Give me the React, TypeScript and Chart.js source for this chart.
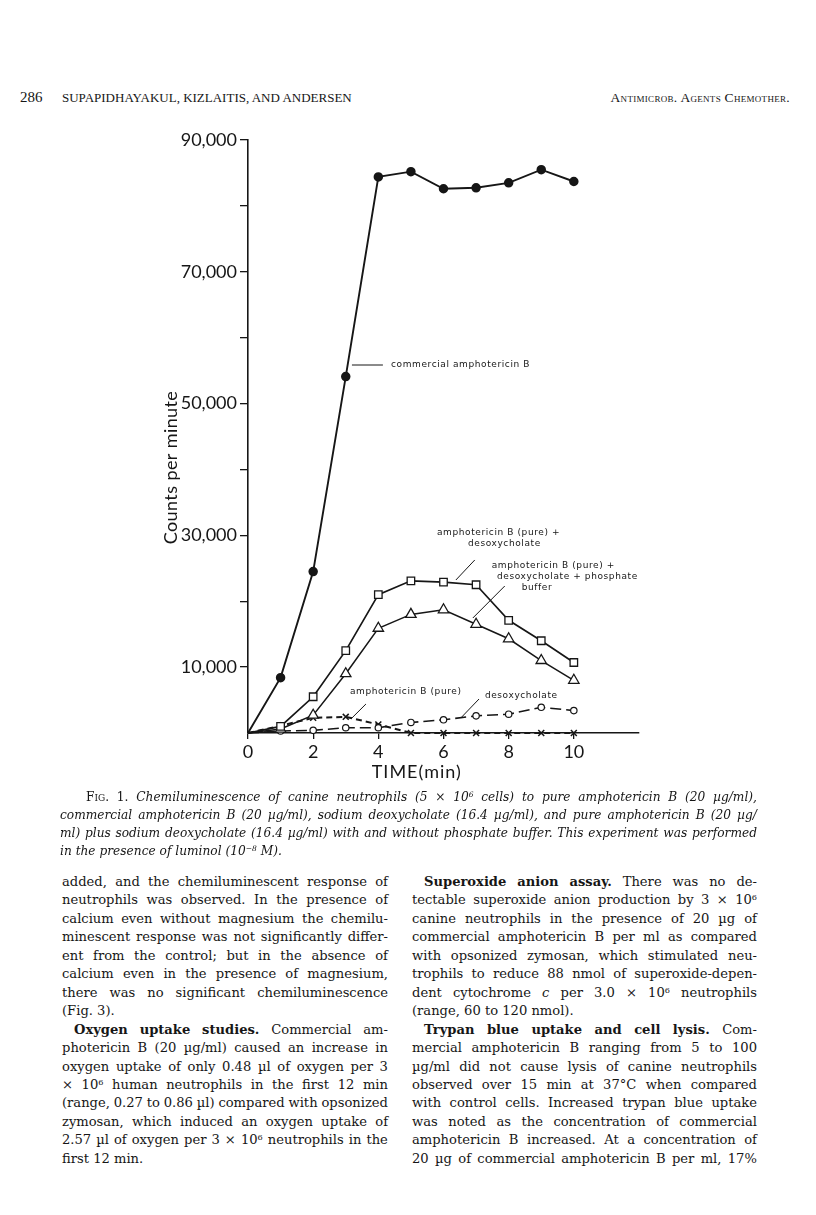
import React, { useEffect, useRef } from 'react';
import { Chart, registerables } from 'chart.js';

Chart.register(...registerables);

// ---------------- data ----------------
const minutes = [0, 1, 2, 3, 4, 5, 6, 7, 8, 9, 10];
const commercialAmphoB = [0, 8400, 24500, 54100, 84400, 85200, 82600, 82750, 83500, 85500, 83700];
const pureAmphoBDesoxy = [0, 1000, 5500, 12500, 21000, 23100, 22900, 22500, 17100, 14000, 10700];
const pureAmphoBDesoxyPhosphate = [0, 600, 2700, 9000, 15900, 18000, 18700, 16500, 14300, 11000, 8000];
const desoxycholateOnly = [0, 300, 400, 800, 800, 1600, 2000, 2600, 2850, 3900, 3400];
const pureAmphoB = [0, 1100, 2300, 2450, 1300, 0, 0, 0, 0, 0, 0];

const xLabelValues = [0, 2, 4, 6, 8, 10];
const xTickLabels = ['0', '2', '4', '6', '8', '10'];
const yLabelValues = [10000, 30000, 50000, 70000, 90000];
const yTickLabels = ['10,000', '30,000', '50,000', '70,000', '90,000'];

// annotation texts, anchored in data coordinates (minutes, counts)
const annotations = [
  { lines: [{ text: 'commercial amphotericin B', t: 4.39, v: 55850 }], from: [3.19, 55850], to: [4.14, 55850] },
  {
    lines: [
      { text: 'amphotericin B (pure) +', t: 5.8, v: 30350 },
      { text: 'desoxycholate', t: 6.75, v: 28680 },
    ],
    from: [6.38, 23220], to: [6.96, 26260],
  },
  {
    lines: [
      { text: 'amphotericin B (pure) +', t: 7.48, v: 25420 },
      { text: 'desoxycholate + phosphate', t: 7.64, v: 23750 },
      { text: 'buffer', t: 8.4, v: 22080 },
    ],
    from: [6.9, 17450], to: [7.88, 22310],
  },
  { lines: [{ text: 'amphotericin B (pure)', t: 3.13, v: 6220 }], from: [3.19, 2280], to: [3.62, 4400] },
  { lines: [{ text: 'desoxycholate', t: 7.27, v: 5610 }], from: [6.56, 2430], to: [7.09, 5160] },
];

// ---------------- page text ----------------
const headerPage = '286';
const headerAuthors = 'SUPAPIDHAYAKUL, KIZLAITIS, AND ANDERSEN';
const headerJournal = 'Antimicrob. Agents Chemother.';

const captionLines = [
  '\t~Fig. 1.~ Chemiluminescence of canine neutrophils (5 × 10^6 cells) to pure amphotericin B (20 µg/ml),',
  'commercial amphotericin B (20 µg/ml), sodium deoxycholate (16.4 µg/ml), and pure amphotericin B (20 µg/',
  'ml) plus sodium deoxycholate (16.4 µg/ml) with and without phosphate buffer. This experiment was performed',
  'in the presence of luminol (10^−8 M).¶',
];

const leftColumnLines = [
  'added, and the chemiluminescent response of',
  'neutrophils was observed. In the presence of',
  'calcium even without magnesium the chemilu-',
  'minescent response was not significantly differ-',
  'ent from the control; but in the absence of',
  'calcium even in the presence of magnesium,',
  'there was no significant chemiluminescence',
  '(Fig. 3).¶',
  '\t**Oxygen uptake studies.** Commercial am-',
  'photericin B (20 µg/ml) caused an increase in',
  'oxygen uptake of only 0.48 µl of oxygen per 3',
  '× 10^6 human neutrophils in the first 12 min',
  '(range, 0.27 to 0.86 µl) compared with opsonized',
  'zymosan, which induced an oxygen uptake of',
  '2.57 µl of oxygen per 3 × 10^6 neutrophils in the',
  'first 12 min.¶',
];

const rightColumnLines = [
  '\t**Superoxide anion assay.** There was no de-',
  'tectable superoxide anion production by 3 × 10^6',
  'canine neutrophils in the presence of 20 µg of',
  'commercial amphotericin B per ml as compared',
  'with opsonized zymosan, which stimulated neu-',
  'trophils to reduce 88 nmol of superoxide-depen-',
  'dent cytochrome _c_ per 3.0 × 10^6 neutrophils',
  '(range, 60 to 120 nmol).¶',
  '\t**Trypan blue uptake and cell lysis.** Com-',
  'mercial amphotericin B ranging from 5 to 100',
  'µg/ml did not cause lysis of canine neutrophils',
  'observed over 15 min at 37°C when compared',
  'with control cells. Increased trypan blue uptake',
  'was noted as the concentration of commercial',
  'amphotericin B increased. At a concentration of',
  '20 µg of commercial amphotericin B per ml, 17%',
];

const SERIF = '"DejaVu Serif", "Liberation Serif", serif';
const INK = '#161616';

function renderWord(w: string, key: number, bold: boolean, italic: boolean, smallCaps: boolean) {
  const style: React.CSSProperties = {
    fontWeight: bold ? 'bold' : undefined,
    fontStyle: italic ? 'italic' : smallCaps ? 'normal' : undefined,
    fontVariant: smallCaps ? 'small-caps' : undefined,
  };
  const idx = w.indexOf('^');
  if (idx >= 0) {
    const base = w.slice(0, idx);
    const restAll = w.slice(idx + 1);
    const m = restAll.match(/^([−-]?\d+)(.*)$/);
    const sup = m ? m[1] : restAll;
    const rest = m ? m[2] : '';
    return (
      <span key={key} style={style}>
        {base}
        <sup style={{ fontSize: '0.62em', lineHeight: 0, verticalAlign: '0.5em' }}>{sup}</sup>
        {rest}
      </span>
    );
  }
  return (
    <span key={key} style={style}>
      {w}
    </span>
  );
}

function TextLine(props: { raw: string; left: number; width: number; center: number; indent: number; fontSize: number; italic?: boolean }) {
  let raw = props.raw;
  let indent = 0;
  let justify = true;
  if (raw.startsWith('\t')) {
    raw = raw.slice(1);
    indent = props.indent;
  }
  if (raw.endsWith('¶')) {
    raw = raw.slice(0, -1);
    justify = false;
  }
  const words = raw.split(' ');
  const baseItal = !!props.italic;
  let bold = false;
  let ital = baseItal;
  let sc = false;
  const items: React.ReactNode[] = [];
  words.forEach((w0, i) => {
    let w = w0;
    let endBold = false;
    let endItal = false;
    let endSc = false;
    if (w.startsWith('**')) { bold = true; w = w.slice(2); }
    if (w.endsWith('**')) { endBold = true; w = w.slice(0, -2); }
    if (w.startsWith('_')) { ital = true; w = w.slice(1); }
    if (w.endsWith('_')) { endItal = true; w = w.slice(0, -1); }
    if (w.startsWith('~')) { sc = true; ital = false; w = w.slice(1); }
    if (w.endsWith('~')) { endSc = true; w = w.slice(0, -1); }
    items.push(renderWord(w, i, bold, ital, sc));
    if (!justify && i < words.length - 1) items.push(<span key={'s' + i}>{' '}</span>);
    if (endBold) bold = false;
    if (endItal) ital = baseItal;
    if (endSc) { sc = false; ital = baseItal; }
  });
  return (
    <div
      style={{
        position: 'absolute',
        left: props.left + indent,
        width: props.width - indent,
        top: props.center - 10,
        height: 20,
        lineHeight: '20px',
        fontFamily: SERIF,
        fontSize: props.fontSize,
        fontStyle: props.italic ? 'italic' : 'normal',
        color: INK,
        display: 'flex',
        justifyContent: justify ? 'space-between' : 'flex-start',
        whiteSpace: 'pre',
      }}
    >
      {items}
    </div>
  );
}

const overlayPlugin = {
  id: 'overlay',
  afterDraw(chart: any) {
    const { ctx, chartArea } = chart;
    const xs = chart.scales.x;
    const ys = chart.scales.y;
    ctx.save();
    ctx.strokeStyle = INK;
    ctx.fillStyle = INK;
    ctx.lineWidth = 1;
    for (const a of annotations) {
      ctx.beginPath();
      ctx.moveTo(xs.getPixelForValue(a.from[0]), ys.getPixelForValue(a.from[1]));
      ctx.lineTo(xs.getPixelForValue(a.to[0]), ys.getPixelForValue(a.to[1]));
      ctx.stroke();
      ctx.font = '9px "DejaVu Sans"';
      (ctx as any).letterSpacing = '0.6px';
      ctx.textBaseline = 'middle';
      ctx.textAlign = 'left';
      for (const l of a.lines) {
        ctx.fillText(l.text, xs.getPixelForValue(l.t), ys.getPixelForValue(l.v));
      }
    }
    // axis titles
    ctx.font = '18px Lato';
    (ctx as any).letterSpacing = '0.4px';
    ctx.textAlign = 'center';
    ctx.textBaseline = 'middle';
    ctx.save();
    ctx.translate(chartArea.left - 77, (chartArea.top + chartArea.bottom) / 2 + 31);
    ctx.rotate(-Math.PI / 2);
    ctx.fillText('Counts per minute', 0, 0);
    ctx.restore();
    (ctx as any).letterSpacing = '1px';
    ctx.fillText('TIME(min)', xs.getPixelForValue(5.18), chartArea.bottom + 39);
    ctx.restore();
  },
};

function ChemiluminescenceChart() {
  const ref = useRef<HTMLCanvasElement | null>(null);
  useEffect(() => {
    if (!ref.current) return;
    const hideFirst = (r: number) => (c: any) => (c.dataIndex === 0 ? 0 : r);
    const pts = (vals: number[]) => minutes.map((m, i) => ({ x: m, y: vals[i] }));
    const chart = new Chart(ref.current, {
      type: 'line',
      data: {
        datasets: [
          {
            label: 'commercial amphotericin B',
            data: pts(commercialAmphoB),
            borderColor: INK,
            borderWidth: 1.9,
            pointStyle: 'circle',
            pointRadius: hideFirst(3.8),
            pointBackgroundColor: INK,
            pointBorderColor: INK,
            clip: false,
          },
          {
            label: 'amphotericin B (pure) + desoxycholate',
            data: pts(pureAmphoBDesoxy),
            borderColor: INK,
            borderWidth: 1.7,
            pointStyle: 'rect',
            pointRadius: hideFirst(5.3),
            pointBackgroundColor: '#fff',
            pointBorderColor: INK,
            pointBorderWidth: 1.3,
            clip: false,
          },
          {
            label: 'amphotericin B (pure) + desoxycholate + phosphate buffer',
            data: pts(pureAmphoBDesoxyPhosphate),
            borderColor: INK,
            borderWidth: 1.5,
            pointStyle: 'triangle',
            pointRadius: hideFirst(6),
            pointBackgroundColor: '#fff',
            pointBorderColor: INK,
            pointBorderWidth: 1.3,
            clip: false,
          },
          {
            label: 'desoxycholate',
            data: pts(desoxycholateOnly),
            borderColor: INK,
            borderWidth: 1.6,
            borderDash: [11, 5],
            pointStyle: 'circle',
            pointRadius: hideFirst(3.2),
            pointBackgroundColor: '#fff',
            pointBorderColor: INK,
            pointBorderWidth: 1.2,
            clip: false,
          },
          {
            label: 'amphotericin B (pure)',
            data: pts(pureAmphoB),
            borderColor: INK,
            borderWidth: 2,
            borderDash: [6, 4],
            pointStyle: 'crossRot',
            pointRadius: hideFirst(4.2),
            pointBorderColor: INK,
            pointBorderWidth: 1.5,
            clip: false,
          },
        ],
      },
      options: {
        responsive: false,
        animation: false,
        devicePixelRatio: 1,
        layout: { padding: { left: 0, top: 40, right: 21, bottom: 0 } },
        plugins: { legend: { display: false }, tooltip: { enabled: false } },
        elements: { line: { tension: 0 } },
        scales: {
          x: {
            type: 'linear',
            min: 0,
            max: 12,
            afterFit: (s: any) => { s.height = 67; },
            ticks: {
              stepSize: 2,
              autoSkip: false,
              maxRotation: 0,
              padding: 2,
              color: INK,
              font: { family: 'Lato', size: 18 },
              callback: (v: any) => {
                const i = xLabelValues.indexOf(Number(v));
                return i >= 0 ? xTickLabels[i] : '';
              },
            },
            grid: {
              display: true,
              drawOnChartArea: false,
              drawTicks: true,
              tickLength: 6,
              lineWidth: 1.3,
              tickColor: (c: any) => (c.tick && c.tick.value > 10 ? 'rgba(0,0,0,0)' : INK),
            },
            border: { display: true, color: INK, width: 1.6 },
          },
          y: {
            type: 'linear',
            min: 0,
            max: 90000,
            afterFit: (s: any) => { s.width = 148; },
            ticks: {
              stepSize: 10000,
              autoSkip: false,
              padding: 3,
              color: INK,
              font: { family: 'Lato', size: 18 },
              callback: (v: any) => {
                const i = yLabelValues.indexOf(Number(v));
                return i >= 0 ? yTickLabels[i] : '';
              },
            },
            grid: {
              display: true,
              drawOnChartArea: false,
              drawTicks: true,
              tickLength: 8,
              lineWidth: 1.3,
              tickColor: (c: any) => (c.tick && c.tick.value === 0 ? 'rgba(0,0,0,0)' : INK),
            },
            border: { display: true, color: INK, width: 1.6 },
          },
        },
      },
      plugins: [overlayPlugin],
    } as any);
    return () => chart.destroy();
  }, []);
  return (
    <canvas
      ref={ref}
      width={560}
      height={700}
      style={{ position: 'absolute', left: 100, top: 100, width: 560, height: 700 }}
    />
  );
}

export default function App() {
  return (
    <div style={{ position: 'absolute', left: 0, top: 0, width: 816, height: 1215, background: '#fff', overflow: 'hidden', color: INK }}>
      <div style={{ position: 'absolute', left: 20, top: 87, fontFamily: '"Liberation Serif", serif', fontSize: 15, lineHeight: '20px' }}>{headerPage}</div>
      <div style={{ position: 'absolute', left: 62, top: 88, fontFamily: '"Liberation Serif", serif', fontSize: 13, lineHeight: '20px' }}>{headerAuthors}</div>
      <div style={{ position: 'absolute', right: 26, top: 88, fontFamily: '"Liberation Serif", serif', fontSize: 13.5, lineHeight: '20px', fontVariant: 'small-caps', letterSpacing: '0.3px' }}>{headerJournal}</div>

      <ChemiluminescenceChart />

      {captionLines.map((l, i) => (
        <TextLine key={'c' + i} raw={l} left={60} width={697} center={797 + i * 18} indent={26} fontSize={12.2} italic />
      ))}
      {leftColumnLines.map((l, i) => (
        <TextLine key={'l' + i} raw={l} left={62} width={326} center={882 + i * 18.45} indent={12} fontSize={13.1} />
      ))}
      {rightColumnLines.map((l, i) => (
        <TextLine key={'r' + i} raw={l} left={412} width={345} center={882 + i * 18.45} indent={12} fontSize={13.1} />
      ))}
    </div>
  );
}
